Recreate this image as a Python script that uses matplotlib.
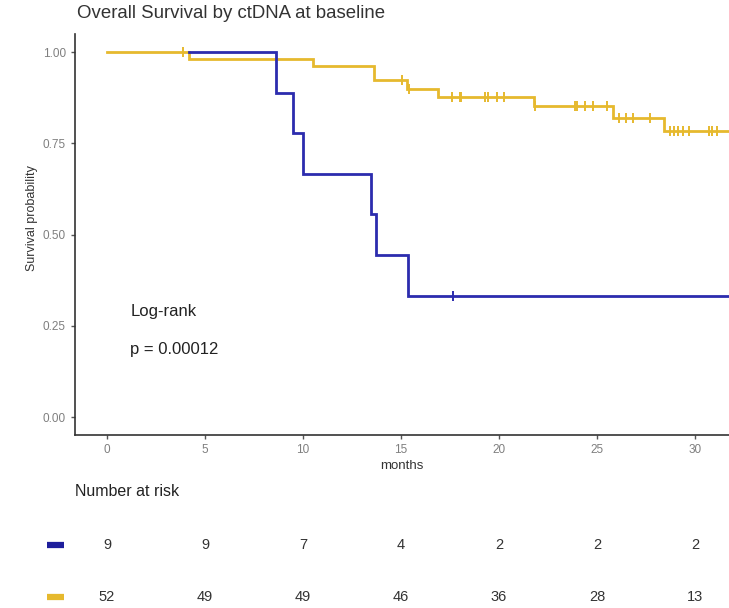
import matplotlib
matplotlib.use("Agg")
import matplotlib.pyplot as plt
import numpy as np

plt.rcParams['font.family'] = ['Liberation Sans', 'DejaVu Sans']

# Kaplan-Meier step data (time in months, survival after each step)
blue_start = 4.2
blue_times = [8.6, 9.5, 10.0, 13.45, 13.7, 15.35]
blue_surv = [0.889, 0.778, 0.667, 0.556, 0.444, 0.333]
blue_censor = [17.65]
blue_end = 31.7

yellow_times = [4.2, 10.5, 13.6, 15.3, 16.9, 21.8, 25.8, 28.4]
yellow_surv = [0.981, 0.962, 0.923, 0.898, 0.878, 0.853, 0.820, 0.784]
yellow_censor = [3.9, 15.05, 15.4, 17.6, 18.0, 18.05, 19.3, 19.45, 19.9, 20.25,
                 21.85, 23.9, 24.0, 24.4, 24.8, 25.5, 26.1, 26.5, 26.85, 27.7,
                 28.7, 28.9, 29.15, 29.4, 29.7, 30.7, 30.85, 31.1]
yellow_end = 31.7

risk_times = [0, 5, 10, 15, 20, 25, 30]
risk_blue = [9, 9, 7, 4, 2, 2, 2]
risk_yellow = [52, 49, 49, 46, 36, 28, 13]

BLUE = "#2C2CAE"
YELLOW = "#E6B92E"
GREY = "#7F7F7F"

fig = plt.figure(figsize=(7.29, 6.08), dpi=100)
W, H = 729, 608


def px_axes(x0, y0, x1, y1):
    return fig.add_axes([x0 / W, 1 - y1 / H, (x1 - x0) / W, (y1 - y0) / H])


ax = px_axes(75, 33.8, 729, 435.3)
xlim = (-1.63, 31.73)
ax.set_xlim(*xlim)
ax.set_ylim(-0.05, 1.05)


def step_curve(t0, s0, times, surv, t_end):
    xs = [t0]
    ys = [s0]
    cur = s0
    for t, s in zip(times, surv):
        xs += [t, t]
        ys += [cur, s]
        cur = s
    xs.append(t_end)
    ys.append(cur)
    return np.array(xs), np.array(ys)


def surv_at(t, t0, s0, times, surv):
    cur = s0
    for tt, s in zip(times, surv):
        if t >= tt:
            cur = s
    return cur


xb, yb = step_curve(blue_start, 1.0, blue_times, blue_surv, blue_end)
xy, yy = step_curve(0.0, 1.0, yellow_times, yellow_surv, yellow_end)
ax.plot(xy, yy, color=YELLOW, lw=2.0, solid_joinstyle='miter', zorder=2)
ax.plot(xb, yb, color=BLUE, lw=2.0, solid_joinstyle='miter', zorder=3)

ax.plot(yellow_censor,
        [surv_at(t, 0.0, 1.0, yellow_times, yellow_surv) for t in yellow_censor],
        ls='none', marker='|', ms=6.5, mew=1.4, color=YELLOW, zorder=2)
ax.plot(blue_censor,
        [surv_at(t, blue_start, 1.0, blue_times, blue_surv) for t in blue_censor],
        ls='none', marker='|', ms=6.5, mew=1.4, color=BLUE, zorder=3)

ax.text(1.2, 0.29, "Log-rank", fontsize=12, color="#222222", va='center')
ax.text(1.2, 0.185, "p = 0.00012", fontsize=12, color="#222222", va='center')

for side in ('top', 'right'):
    ax.spines[side].set_visible(False)
for side in ('left', 'bottom'):
    ax.spines[side].set_color("#333333")
    ax.spines[side].set_linewidth(1.2)

ax.set_xticks(risk_times)
ax.set_yticks([0, 0.25, 0.5, 0.75, 1.0])
ax.set_yticklabels(["0.00", "0.25", "0.50", "0.75", "1.00"])
ax.tick_params(axis='both', colors="#555555", labelcolor=GREY, labelsize=8.5,
               length=3, width=1)
ax.set_xlabel("months", fontsize=9.5, color="#333333", labelpad=3)
ax.set_ylabel("Survival probability", fontsize=9, color="#333333")
ax.yaxis.set_label_coords(-0.057, 0.54)

fig.text(77 / W, 1 - 13 / H, "Overall Survival by ctDNA at baseline",
         fontsize=13.4, color="#333333", va='center', ha='left')

# Number at risk table
rt = px_axes(75, 470, 729, 608)
rt.set_xlim(*xlim)
rt.set_ylim(0, 138)
rt.axis('off')
rt.text(xlim[0], 138 - 22, "Number at risk", fontsize=11.5, color="#222222",
        va='center', ha='left')
row_y = [138 - 75, 138 - 127]
for vals, col, yv in ((risk_blue, "#1E1E9C", row_y[0]), (risk_yellow, YELLOW, row_y[1])):
    for t, v in zip(risk_times, vals):
        rt.text(t, yv, str(v), fontsize=10.5, color="#333333", ha='center', va='center')
    fig.add_artist(plt.Line2D([47 / W, 64 / W], [1 - (470 + 138 - yv) / H] * 2,
                              color=col, lw=4.5, solid_capstyle='butt'))

fig.savefig("out.png", dpi=100)
